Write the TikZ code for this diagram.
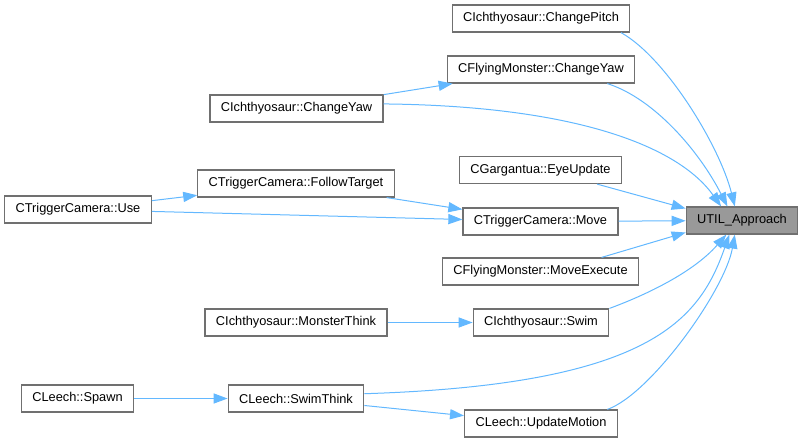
\documentclass[tikz,border=0pt]{standalone}
\usepackage{fontspec}
\setmainfont{Liberation Sans}
\usetikzlibrary{arrows.meta}
\definecolor{edgeblue}{HTML}{63B8FF}
\definecolor{boxgray}{HTML}{707070}
\definecolor{hitgray}{HTML}{999999}

\begin{document}
\begin{tikzpicture}[x=.75pt,y=-.75pt,>={Triangle[length=10.5pt,width=7.6pt]},
  font=\fontsize{9.6}{11}\selectfont,
  fn/.style={draw=boxgray,line width=.9pt,fill=white,inner xsep=8.2pt,inner ysep=0pt,minimum height=20.25pt},
  call/.style={->,draw=edgeblue,fill=none,line width=.75pt}]
  \useasboundingbox (0,0) rectangle (803,443);
  \node[fn,fill=hitgray] (util) at (742,220.5) {UTIL\_Approach};
  \node[fn] (pitch) at (541,18.5) {CIchthyosaur::ChangePitch};
  \node[fn] (fyaw) at (541,69.5) {CFlyingMonster::ChangeYaw};
  \node[fn] (iyaw) at (296.5,108.5) {CIchthyosaur::ChangeYaw};
  \node[fn] (eye) at (540.5,170) {CGargantua::EyeUpdate};
  \node[fn] (ftgt) at (296,183.5) {CTriggerCamera::FollowTarget};
  \node[fn] (use) at (78,209.5) {CTriggerCamera::Use};
  \node[fn] (move) at (540.5,221.5) {CTriggerCamera::Move};
  \node[fn] (mexec) at (540.5,271.5) {CFlyingMonster::MoveExecute};
  \node[fn] (mthink) at (296,322.5) {CIchthyosaur::MonsterThink};
  \node[fn] (swim) at (541,322.5) {CIchthyosaur::Swim};
  \node[fn] (spawn) at (77.5,398.5) {CLeech::Spawn};
  \node[fn] (sthink) at (296,398.5) {CLeech::SwimThink};
  \node[fn] (umot) at (541,423.5) {CLeech::UpdateMotion};

  \draw[call] (pitch.-10) .. controls +(45,25) and +(-15,-60) .. (util.117);
  \draw[call] (fyaw.-12) .. controls +(47,15) and +(-28,-55) .. (util.136);
  \draw[call] (iyaw.3) .. controls +(195,2) and +(-42,-59) .. (util.146);
  \draw[call] (eye.-14) -- (util.168);
  \draw[call] (move) -- (util);
  \draw[call] (mexec.13) -- (util.192);
  \draw[call] (swim.north east) .. controls +(30,-11) and +(-35,40) .. (util.222);
  \draw[call] (sthink.4) .. controls +(285,-9) and +(-30,86) .. (util.228);
  \draw[call] (umot.12) .. controls +(43,-15) and +(-10,56) .. (util.243);
  \draw[call] (iyaw) -- (fyaw);
  \draw[call] (use) -- (ftgt);
  \draw[call] (use) -- (move);
  \draw[call] (ftgt) -- (move);
  \draw[call] (mthink) -- (swim);
  \draw[call] (spawn) -- (sthink);
  \draw[call] (sthink) -- (umot);
\end{tikzpicture}
\end{document}
